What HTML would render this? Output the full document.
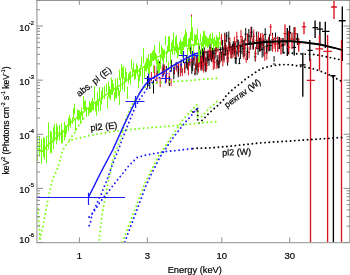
<!DOCTYPE html>
<html><head><meta charset="utf-8"><style>
html,body{margin:0;padding:0;background:#fff;}
svg{display:block;will-change:transform;}
</style></head><body>
<svg width="350" height="275" viewBox="0 0 350 275" xmlns="http://www.w3.org/2000/svg">
<defs><clipPath id="c"><rect x="37" y="0" width="312" height="242"/></clipPath></defs>
<g clip-path="url(#c)">
<polyline points="198.0,53.3 215.0,50.5 230.0,47.5 245.0,44.5 260.0,42.5 275.0,41.5 290.0,41.2 305.0,42.5 320.0,44.5 335.0,48.0 342.0,50.0" stroke="#000" stroke-width="1.2" fill="none"/>
<path d="M147.5 76.1V87.7M147.2 81.9H147.8M153.5 80.2V93.5M153.1 87.0H153.8M159.4 61.3V71.2M159.0 64.4H159.8M166.3 66.0V79.7M165.9 72.8H166.8M171.3 59.7V71.6M170.8 65.7H171.7M176.2 61.8V70.0M175.7 65.9H176.7M181.1 59.5V72.8M180.6 66.2H181.7M184.8 63.3V72.5M184.3 67.9H185.4M187.7 56.3V70.1M187.1 63.2H188.3M190.8 46.7V54.1M190.2 48.5H191.4M192.7 58.3V71.2M192.1 64.8H193.3M195.0 68.3V75.5M194.4 73.3H195.7M197.1 63.5V74.9M196.4 69.9H197.8M199.2 45.6V58.7M198.5 52.1H199.9M201.0 57.8V68.1M200.3 63.0H201.7M202.6 48.4V59.9M201.9 54.2H203.3M204.3 47.4V59.3M203.6 53.4H205.1M205.9 58.2V72.2M205.1 65.5H206.6M208.1 52.1V61.2M207.3 56.6H208.8M210.0 42.3V53.3M209.2 47.8H210.7M211.5 46.1V61.9M210.7 54.0H212.3M213.7 48.4V61.7M212.9 55.1H214.5M216.1 42.7V52.9M215.3 47.8H216.9M218.3 60.8V68.5M217.5 66.9H219.1M220.4 44.9V54.7M219.6 49.8H221.2M222.6 39.9V55.5M221.7 47.7H223.5M224.8 32.7V48.8M223.9 40.7H225.7M226.7 32.1V42.3M225.8 36.1H227.6M228.8 31.4V46.4M227.9 38.7H229.8M231.2 45.7V58.4M230.2 52.0H232.1M233.3 41.1V50.7M232.3 45.9H234.2M235.3 52.1V63.5M234.3 57.8H236.3M237.2 39.2V54.5M236.2 46.9H238.1M239.4 57.9V63.7M238.4 63.6H240.4M242.0 39.1V54.2M241.0 46.6H243.0M244.7 39.7V56.5M243.6 48.1H245.7M247.4 43.1V60.1M246.3 51.6H248.4M250.2 34.3V49.9M249.1 42.1H251.2M253.4 33.6V49.7M252.3 41.6H254.5M256.7 31.5V49.1M255.6 40.3H257.8M259.5 37.9V51.6M258.3 44.7H260.6M262.2 41.3V57.6M261.1 49.4H263.4M265.2 28.2V40.6M264.0 34.4H266.4M268.1 39.6V51.5M266.9 45.6H269.3M270.9 40.1V50.7M269.7 45.4H272.1M274.1 56.1V61.7M272.9 64.0H275.4" stroke="#000" stroke-width="1" fill="none"/><path d="M148.8 75.7V84.7M148.5 80.2H149.1M154.7 65.6V79.3M154.3 72.4H155.1M160.2 77.3V87.2M159.8 82.3H160.6M164.4 64.6V74.3M164.0 69.4H164.9M169.2 72.4V84.4M168.7 78.4H169.7M174.5 66.4V74.3M174.0 70.3H175.0M178.5 63.3V74.8M178.0 69.0H179.1M182.3 68.0V76.1M181.7 72.0H182.8M186.6 55.8V65.1M186.0 60.4H187.2M190.0 58.6V66.4M189.4 62.5H190.6M193.1 51.0V64.0M192.5 57.5H193.8M195.5 63.7V73.2M194.9 68.5H196.2M197.8 56.4V67.4M197.1 61.9H198.5M199.8 56.5V66.7M199.1 61.6H200.5M201.5 49.4V64.4M200.8 56.9H202.2M203.6 57.7V72.7M202.9 65.2H204.3M206.0 59.1V71.6M205.2 65.4H206.7M208.0 49.3V61.2M207.2 55.3H208.7M210.3 48.0V57.1M209.6 52.6H211.1M212.2 50.5V61.5M211.4 56.0H213.0M214.7 56.3V68.8M213.9 62.5H215.5M216.9 60.3V68.9M216.1 66.0H217.7M219.3 52.2V64.1M218.4 58.1H220.1M221.4 33.9V45.3M220.5 38.2H222.2M224.0 46.0V62.6M223.2 54.3H224.9M226.1 44.9V55.5M225.2 50.2H227.0M228.1 46.2V62.5M227.2 54.3H229.0M229.8 37.4V51.0M228.9 44.2H230.7M232.0 46.1V58.4M231.1 52.2H233.0M234.4 36.8V53.0M233.5 44.9H235.4M236.8 31.7V42.1M235.9 36.9H237.8M240.0 41.6V52.2M239.0 46.9H241.0M242.3 36.3V46.6M241.3 41.5H243.3M244.9 38.1V52.6M243.9 45.4H245.9M247.5 33.4V47.5M246.5 40.5H248.6M250.9 26.8V39.5M249.8 32.9H252.0M253.8 29.6V43.5M252.7 36.5H254.9M256.9 36.5V48.9M255.8 42.7H258.0M260.5 33.3V51.5M259.4 42.4H261.7M263.4 34.6V46.2M262.2 40.4H264.5M266.8 46.7V59.7M265.6 53.2H268.0M270.7 23.9V36.0M269.4 26.9H271.9M274.1 37.4V48.7M272.8 43.0H275.3" stroke="#d8121e" stroke-width="1" fill="none"/><path d="M149.8 77.8V89.0M149.5 83.4H150.1M157.2 65.8V75.5M156.9 70.7H157.6M163.2 63.4V75.3M162.8 69.3H163.6M169.3 76.5V86.0M168.8 81.9H169.8M173.8 67.1V79.3M173.3 73.2H174.3M178.2 67.1V77.3M177.7 72.2H178.7M183.5 52.9V63.1M182.9 58.0H184.1M186.3 56.3V68.4M185.7 62.4H186.8M189.0 56.9V65.4M188.4 61.1H189.6M191.8 60.5V73.9M191.1 67.2H192.4M194.0 53.6V65.6M193.3 59.6H194.6M196.2 56.5V69.4M195.5 63.0H196.8M198.0 52.8V67.3M197.4 60.1H198.7M200.1 49.7V63.7M199.4 56.7H200.7M201.8 60.8V70.8M201.1 65.8H202.5M203.5 47.6V62.4M202.7 55.0H204.2M205.1 57.0V71.1M204.4 64.0H205.8M207.1 52.0V64.3M206.4 58.1H207.9M209.0 53.8V65.8M208.2 59.8H209.7M210.7 50.6V60.4M210.0 55.5H211.5M212.6 47.8V59.0M211.8 53.4H213.4M215.0 48.1V58.6M214.2 53.4H215.8M217.2 55.2V65.2M216.4 60.2H218.0M219.2 54.6V67.8M218.4 61.2H220.1M221.7 51.4V61.2M220.8 56.3H222.5M223.9 48.9V60.5M223.1 54.7H224.8M225.6 42.8V55.7M224.7 49.2H226.5M227.6 49.6V65.7M226.7 58.0H228.5M229.8 42.2V51.4M228.9 46.8H230.7M232.4 43.7V54.1M231.5 48.9H233.3M234.2 42.7V55.5M233.3 49.1H235.2M236.1 50.9V64.2M235.2 58.5H237.1M238.3 39.8V56.4M237.3 48.1H239.3M240.4 44.7V58.9M239.4 51.8H241.4M243.2 40.0V57.2M242.2 48.6H244.2M245.7 28.1V40.3M244.6 34.2H246.7M248.8 29.0V43.2M247.8 36.1H249.9M251.7 26.7V37.6M250.7 32.1H252.8M255.2 50.8V61.6M254.1 56.8H256.3M258.1 41.8V54.9M256.9 48.4H259.2M261.0 37.4V50.9M259.8 44.2H262.1M263.9 39.5V56.4M262.7 47.9H265.0M266.7 39.6V53.0M265.5 46.3H267.8M269.4 34.2V51.2M268.2 42.7H270.6M272.5 32.9V45.6M271.3 39.3H273.8M275.5 32.6V43.9M274.3 38.2H276.8" stroke="#000" stroke-width="1" fill="none"/><path d="M151.4 71.9V81.2M151.1 76.5H151.7M156.9 72.5V84.1M156.5 78.3H157.3M162.3 66.4V77.6M161.9 72.0H162.7M166.5 69.1V82.7M166.1 75.9H167.0M171.1 78.9V85.1M170.7 85.6H171.6M176.8 62.8V71.5M176.3 67.1H177.3M180.3 63.3V76.5M179.8 69.9H180.8M184.6 62.1V73.3M184.1 67.7H185.2M188.4 62.3V75.3M187.7 68.8H189.0M191.7 52.8V61.4M191.1 57.1H192.4M194.3 52.5V60.6M193.6 56.5H194.9M196.8 55.4V65.4M196.1 60.4H197.4M198.6 61.3V72.7M197.9 67.0H199.3M200.7 58.7V70.3M200.0 64.5H201.4M202.6 57.7V69.5M201.8 63.6H203.3M204.9 50.4V64.7M204.1 57.5H205.6M206.8 61.2V69.8M206.1 65.5H207.6M209.3 49.8V58.8M208.6 54.3H210.1M211.2 46.5V59.2M210.4 52.9H212.0M213.3 54.6V70.0M212.5 62.4H214.1M216.0 41.6V56.7M215.1 49.2H216.8M218.0 42.9V52.3M217.2 47.6H218.8M220.2 51.8V62.8M219.4 57.3H221.1M222.8 50.5V66.4M221.9 58.5H223.6M224.9 33.6V49.4M224.1 41.5H225.8M227.2 52.6V62.7M226.3 57.7H228.1M228.9 43.2V54.3M228.0 48.8H229.8M230.8 47.5V58.2M229.9 52.9H231.7M233.1 46.4V57.5M232.2 51.9H234.1M235.5 41.4V57.6M234.6 49.5H236.5M238.4 45.2V56.9M237.4 51.1H239.4M241.0 29.9V43.1M240.0 36.5H242.0M243.9 45.1V59.1M242.9 52.1H244.9M246.2 52.9V62.8M245.1 59.2H247.2M249.1 46.7V58.3M248.0 52.5H250.2M252.3 38.3V49.4M251.2 43.9H253.3M255.6 46.9V60.4M254.5 53.7H256.7M258.6 31.6V49.2M257.5 40.4H259.7M262.2 32.9V47.1M261.0 40.0H263.3M264.8 45.7V60.9M263.7 53.3H266.0M268.5 37.2V50.7M267.3 44.0H269.7M272.5 34.3V51.7M271.3 43.0H273.8M275.4 37.3V52.0M274.2 44.6H276.7" stroke="#d8121e" stroke-width="1" fill="none"/><path d="M277.8 36.4V51.8M276.5 43.6H279.2" stroke="#d8121e" stroke-width="1.35" fill="none"/><path d="M279.3 37V49M278 43H280.6" stroke="#000" stroke-width="1.35" fill="none"/><path d="M281 38V54.5M279.6 46H282.4" stroke="#d8121e" stroke-width="1.35" fill="none"/><path d="M283 38V53.6M281.6 45H284.4" stroke="#000" stroke-width="1.35" fill="none"/><path d="M285 24.5V45.5M283.5 33.6H286.5" stroke="#d8121e" stroke-width="1.35" fill="none"/><path d="M287.3 28V56M285.8 42H288.8" stroke="#000" stroke-width="1.35" fill="none"/><path d="M289.6 25.5V41.8M288 32.7H291.2" stroke="#000" stroke-width="1.35" fill="none"/><path d="M288.7 31V54.5M287.2 47.3H290.2" stroke="#d8121e" stroke-width="1.35" fill="none"/><path d="M292 32.7V49M290.4 39H293.6" stroke="#d8121e" stroke-width="1.35" fill="none"/><path d="M294.2 27.3V55.5M292.5 47.3H296" stroke="#000" stroke-width="1.35" fill="none"/><path d="M295 27V41M293.3 33.6H296.8" stroke="#d8121e" stroke-width="1.35" fill="none"/><path d="M297.5 33.6V45M295.8 39H299.2" stroke="#000" stroke-width="1.35" fill="none"/><path d="M298.7 39V51.8M297 43.6H300.4" stroke="#d8121e" stroke-width="1.35" fill="none"/><path d="M304 21.8V34.2M301.8 26.9H306.2" stroke="#d8121e" stroke-width="1.35" fill="none"/><path d="M302.8 52.7V96.8M299.6 64.9H305.5" stroke="#000" stroke-width="1.35" fill="none"/><path d="M309.8 40V61.3M307.6 50.4H312.7" stroke="#000" stroke-width="1.35" fill="none"/><path d="M310.5 58.4V242M306.7 80.3H314.9" stroke="#d8121e" stroke-width="1.35" fill="none"/><path d="M315.1 20.4V38M312.5 27.6H318" stroke="#000" stroke-width="1.35" fill="none"/><path d="M319.9 21.8V45M316.5 29.1H323" stroke="#000" stroke-width="1.35" fill="none"/><path d="M319.5 35V70.6M315.5 48.8H323.1" stroke="#d8121e" stroke-width="1.35" fill="none"/><path d="M325.3 21.8V48M322 31.3H329.5" stroke="#000" stroke-width="1.35" fill="none"/><path d="M327.6 35V242M323.4 51.3H331.8" stroke="#d8121e" stroke-width="1.35" fill="none"/><path d="M334 0V18.9M331.1 7H336.9" stroke="#d8121e" stroke-width="1.35" fill="none"/><path d="M333.4 75.2V242M330.4 75.7H335.5" stroke="#000" stroke-width="1.35" fill="none"/><path d="M342.3 6.5V61M338.8 20.7H345.6" stroke="#000" stroke-width="1.35" fill="none"/><path d="M341.5 40V242" stroke="#d8121e" stroke-width="1.35" fill="none"/>
<path d="M37.5 135.5V161.4M36.3 148.4H38.7M39.5 135.9V155.6M38.3 145.8H40.7M41.5 138.9V164.0M40.3 151.4H42.7M43.5 137.2V156.9M42.3 147.0H44.7M44.5 138.1V159.3M43.3 148.7H45.7M46.5 136.1V163.1M45.3 149.6H47.7M48.5 122.5V149.4M47.3 136.0H49.7M50.5 130.5V153.4M49.3 141.9H51.7M51.5 131.8V153.1M50.3 142.5H52.7M53.5 127.3V148.9M52.3 138.1H54.7M54.5 124.0V141.3M53.3 132.7H55.7M56.5 123.4V144.3M55.3 133.9H57.7M57.5 126.4V140.4M56.3 133.4H58.7M59.5 124.9V140.5M58.3 132.7H60.7M61.5 123.5V143.2M60.8 133.3H62.2M62.5 130.0V143.1M61.8 136.5H63.2M64.5 121.7V140.4M63.8 131.1H65.2M65.5 125.2V137.3M64.8 131.3H66.2M66.5 126.3V133.9M65.8 130.1H67.2M68.5 118.0V131.0M67.8 124.5H69.2M69.5 115.2V125.5M68.8 120.3H70.2M70.5 118.8V127.7M69.8 123.2H71.2M72.5 117.3V124.0M71.8 120.6H73.2M73.5 108.3V118.9M72.8 113.6H74.2M74.5 103.8V114.4M73.8 109.1H75.2M75.5 118.6V131.2M77.5 111.9V119.1M77.5 109.5V119.5M78.5 110.0V120.7M79.5 110.5V119.6M80.5 111.7V124.0M81.5 107.5V116.1M82.5 111.3V120.3M83.5 96.3V109.5M84.5 101.2V111.3M85.5 100.3V110.9M86.5 106.8V117.0M88.5 108.3V116.0M89.5 100.9V112.9M90.5 103.0V112.7M91.5 100.9V112.2M92.5 97.8V109.9M93.5 101.1V110.6M94.5 86.2V100.0M95.5 102.2V111.1M96.5 101.3V115.6M97.5 91.9V105.7M98.5 100.9V111.2M99.5 87.0V101.2M100.5 100.1V111.3M101.5 90.8V104.3M102.5 87.3V99.5M104.5 88.5V98.9M104.5 85.9V95.0M106.5 83.9V92.2M107.5 96.5V108.7M108.5 81.6V96.9M109.5 86.0V98.7M110.5 89.3V100.3M111.5 77.5V91.1M111.5 80.6V94.7M112.5 79.9V95.0M113.5 83.9V91.7M114.5 92.1V101.2M115.5 78.9V91.3M115.5 90.4V98.1M116.5 86.6V98.6M117.5 77.8V90.4M118.5 88.0V95.9M119.5 90.4V105.0M119.5 69.6V79.8M120.5 77.8V91.9M121.5 64.0V78.1M122.5 74.9V89.8M122.5 67.4V80.3M123.5 65.9V78.9M124.5 77.7V91.9M125.5 67.9V82.6M126.5 71.9V79.7M127.5 86.7V98.9M128.5 73.8V83.5M129.5 71.4V79.8M130.5 71.8V84.9M130.5 71.6V82.2M131.5 59.1V68.7M132.5 68.2V76.4M133.5 62.5V72.5M134.5 71.0V79.6M134.5 69.8V78.0M135.5 69.2V79.2M136.5 63.3V72.3M137.5 65.3V75.8M138.5 74.6V87.9M139.5 68.2V81.0M140.5 64.9V76.5M141.5 57.1V66.6M142.5 67.9V82.4M142.5 69.8V83.6M143.5 47.8V63.1M144.5 64.7V78.2M145.5 62.2V71.0M146.5 58.4V71.4M147.5 58.2V68.9M148.5 67.4V78.9M148.5 54.2V67.2M149.5 60.2V74.7M150.5 53.6V66.9M151.5 53.0V65.9M152.5 51.4V59.7M153.5 64.9V73.2M153.5 50.1V61.0M154.5 45.1V59.8M155.5 52.6V60.5M156.5 54.7V64.6M157.5 59.6V70.7M158.5 59.0V73.6M159.5 63.2V73.8M159.5 41.8V53.3M160.5 54.3V68.8M161.5 45.5V58.4M162.5 51.1V61.0M162.5 48.0V60.0M163.5 49.6V64.3M164.5 49.5V58.0M165.5 35.9V45.3M166.5 50.9V62.7M167.5 45.6V53.5M168.5 61.7V69.8M168.5 36.3V51.1M169.5 36.4V50.2M170.5 50.7V63.9M171.5 42.5V51.5M172.5 39.7V54.8M173.5 32.7V48.0M174.5 46.4V54.8M175.5 36.9V51.1M176.5 39.6V53.0M176.5 35.2V46.3M177.5 43.9V58.3M178.5 47.1V56.4M179.5 41.7V49.9M180.5 38.6V54.0M181.5 41.4V54.9M182.5 49.0V57.2M182.5 41.1V56.4M183.5 37.1V49.9M184.5 34.7V47.2M185.5 30.4V45.2M185.5 29.4V43.1M186.5 32.5V46.6M187.5 47.9V62.1M188.5 38.6V49.4M189.5 37.6V51.1M190.5 31.7V45.2M191.5 44.0V58.1M192.5 27.4V41.2M192.5 29.8V37.5M193.5 45.5V57.5M194.5 33.6V46.4M195.5 35.1V43.9M196.5 34.4V45.1M197.5 29.0V39.8M198.5 48.1V62.9M198.5 39.2V48.6M199.5 49.2V61.9M200.5 33.5V42.2M201.5 42.0V55.5M202.5 36.3V47.0M203.5 42.5V51.1M203.5 30.9V43.7M204.5 31.3V44.4M205.5 35.2V47.2M206.5 36.4V46.0M207.5 37.7V48.1M207.5 39.1V47.3M208.5 38.1V47.1M209.5 35.1V44.8M210.5 33.6V41.6M211.5 38.7V50.6M212.5 32.6V43.7M213.5 38.7V50.3M213.5 38.9V48.3M214.5 36.9V46.3M215.5 40.4V47.4M216.5 35.2V47.3M217.5 37.0V43.8M217.5 40.0V48.3M218.5 37.4V47.4M219.5 32.1V39.6M220.5 41.2V47.2" stroke="#74ff0c" stroke-width="1" fill="none"/><path d="M191.5 15V40" stroke="#74ff0c" stroke-width="1"/><path d="M191.5 14.5V16.5" stroke="#d8121e" stroke-width="1"/>
<polyline points="37.0,148.0 41.8,151.4 50.0,143.0 64.0,131.0 68.0,125.0 83.0,112.5 98.0,100.0 113.0,90.0 125.0,82.0 140.0,69.5 150.0,62.0 155.0,58.5 170.0,50.5 185.0,46.0 195.0,44.5 205.0,43.5 220.0,43.0" stroke="#74ff0c" stroke-width="1.4" fill="none"/>
<polyline points="193.0,112.0 197.7,108.5 197.7,122.5 198.8,123.3 202.6,119.9 205.8,116.7 208.7,113.5 212.2,110.4 215.1,107.6 218.2,105.0 221.1,102.1 224.3,98.9 226.5,94.9 229.4,92.7 232.3,89.8 235.9,86.9 239.5,84.0 243.2,81.1 246.8,78.2 250.5,75.7 254.1,73.4 257.7,70.9 261.4,68.7 265.0,67.5 272.8,65.7 281.0,64.6 290.2,64.6 300.0,66.3 312.2,68.5 320.0,71.0 328.2,74.3 341.0,81.0" stroke="#000" stroke-width="1.9" stroke-linecap="round" stroke-dasharray="0.01 4.25" stroke-dashoffset="0" fill="none"/><polyline points="192.9,148.6 197.1,148.3 210.0,147.9 230.0,146.2 260.0,142.9 282.5,141.5 310.0,139.6 339.8,137.6 342.0,137.5" stroke="#000" stroke-width="1.9" stroke-linecap="round" stroke-dasharray="0.01 4.25" stroke-dashoffset="0" fill="none"/><polyline points="284.0,52.8 290.0,52.8 295.0,53.6 314.4,54.6 320.0,55.5 330.0,57.5 342.0,60.0" stroke="#000" stroke-width="1.9" stroke-linecap="round" stroke-dasharray="0.01 4.25" stroke-dashoffset="0" fill="none"/><polyline points="40.0,239.0 43.4,224.3 47.3,203.0 49.0,194.4 51.0,186.0 53.2,177.6 56.8,170.5 59.5,162.4 61.5,154.1 63.0,149.7 65.2,146.1 67.4,143.2 69.5,140.7 73.2,139.3 77.5,138.4 81.9,137.4 86.3,136.3 95.0,134.5 116.0,131.1 140.0,128.5 178.0,125.5 194.5,123.6 209.7,122.0 219.0,121.6" stroke="#74ff0c" stroke-width="1.9" stroke-linecap="round" stroke-dasharray="0.01 4.25" stroke-dashoffset="0" fill="none"/><polyline points="37.0,204.4 38.0,209.0 38.3,213.0 38.6,217.4 39.0,221.7 39.3,226.0 39.5,230.0 39.7,235.0 40.0,240.0" stroke="#74ff0c" stroke-width="1.9" stroke-linecap="round" stroke-dasharray="0.01 4.25" stroke-dashoffset="0" fill="none"/><polyline points="69.6,139.8 72.9,135.0 74.5,133.3 76.2,129.4 78.3,126.5 81.0,122.0 84.0,118.0" stroke="#74ff0c" stroke-width="1.9" stroke-linecap="round" stroke-dasharray="0.01 4.25" stroke-dashoffset="0" fill="none"/><polyline points="99.0,242.0 102.0,215.0 105.8,194.8 108.0,182.3 110.0,173.8 112.0,162.5 114.5,154.0 117.7,146.8 119.5,142.0 122.0,133.5 126.2,117.9 128.4,113.5 130.0,109.7 131.4,105.9 134.5,101.0 137.6,96.6 141.8,89.5 147.3,85.5 155.0,83.2 165.0,82.0 190.0,80.5 219.0,78.0" stroke="#74ff0c" stroke-width="1.9" stroke-linecap="round" stroke-dasharray="0.01 4.25" stroke-dashoffset="2.1" fill="none"/><polyline points="122.5,242.0 144.2,185.0 149.0,175.0 158.0,157.0 171.0,137.6 182.6,120.0 187.9,114.4 193.7,108.0 196.6,104.8 197.8,104.8 197.8,117.0 201.4,116.7 204.5,113.5 207.5,110.1 210.5,107.6 213.8,104.4 216.9,101.5 219.0,99.5" stroke="#74ff0c" stroke-width="1.9" stroke-linecap="round" stroke-dasharray="0.01 4.25" stroke-dashoffset="0" fill="none"/><polyline points="89.1,217.0 92.6,213.3 95.2,209.6 98.8,203.8 102.5,199.0 106.8,193.6 115.0,183.0 123.4,172.7 129.0,165.5 137.2,157.5 144.0,155.5 150.9,154.2 164.6,151.6 180.0,150.1 192.9,148.6" stroke="#1a1aff" stroke-width="1.9" stroke-linecap="round" stroke-dasharray="0.01 4.25" stroke-dashoffset="0" fill="none"/><polyline points="89.1,225.7 90.5,222.0 92.0,214.0 94.5,209.0 96.6,204.0 99.6,197.3 101.4,193.8 104.5,185.9 107.7,178.0 110.5,170.0 113.6,161.4 116.8,153.6 118.6,149.5 121.4,141.4 125.4,131.0 129.4,121.2 134.4,109.2 139.0,100.0 142.4,95.4 145.1,91.6 150.0,84.0 158.0,78.5 165.0,74.5 175.0,68.0 184.0,63.0 193.5,58.0 198.0,56.5" stroke="#1a1aff" stroke-width="1.9" stroke-linecap="round" stroke-dasharray="0.01 4.25" stroke-dashoffset="0" fill="none"/><polyline points="124.8,242.0 135.0,215.0 146.2,185.0 150.9,175.0 160.0,157.0 173.2,137.6 184.6,123.0 187.4,119.8 190.4,116.8 193.0,113.3 196.0,110.0 197.8,108.5" stroke="#1a1aff" stroke-width="1.9" stroke-linecap="round" stroke-dasharray="0.01 4.25" stroke-dashoffset="0" fill="none"/>
<polyline points="245.0,44.5 260.0,42.5 275.0,41.5 290.0,41.2 305.0,42.5 320.0,44.5 335.0,48.0 342.0,50.0" stroke="#000" stroke-width="1.8" fill="none"/>
<polyline points="88.6,197.0 100.0,174.0 112.7,150.0 124.0,125.0 135.5,101.0 140.0,92.5 145.0,85.0 150.0,79.5 158.0,75.0 165.0,71.0 175.0,64.5 184.0,59.6 193.5,54.5 198.0,53.0" stroke="#1a1aff" stroke-width="1.5" fill="none"/>
<path d="M37 197.5H125M88.5 192.7V205M125.5 101.5H144.5M135.5 96V106M144.5 78.5H154M148.5 73.5V84M161 78.5H170.5M165.5 74.5V83.5M178.9 55.5H187.6M183.5 50.9V60.4M189.8 55.5H198.5M192.5 50.9V58.9" stroke="#1a1aff" stroke-width="1.15" fill="none"/>
</g>
<path d="M36.9 0V243.2M36.3 242.6H350" stroke="#a6a6a6" stroke-width="1.3" fill="none"/><path d="M36.3 0.3H350M349.9 0V243" stroke="#959595" stroke-width="1.2" fill="none"/><path d="M37 242.45h6M350 242.45h-6.5M37 226.16h3M350 226.16h-3.5M37 216.64h3M350 216.64h-3.5M37 209.88h3M350 209.88h-3.5M37 204.64h3M350 204.64h-3.5M37 200.35h3M350 200.35h-3.5M37 196.73h3M350 196.73h-3.5M37 193.59h3M350 193.59h-3.5M37 190.83h3M350 190.83h-3.5M37 188.35h6M350 188.35h-6.5M37 172.06h3M350 172.06h-3.5M37 162.54h3M350 162.54h-3.5M37 155.78h3M350 155.78h-3.5M37 150.54h3M350 150.54h-3.5M37 146.25h3M350 146.25h-3.5M37 142.63h3M350 142.63h-3.5M37 139.49h3M350 139.49h-3.5M37 136.73h3M350 136.73h-3.5M37 134.25h6M350 134.25h-6.5M37 117.96h3M350 117.96h-3.5M37 108.44h3M350 108.44h-3.5M37 101.68h3M350 101.68h-3.5M37 96.44h3M350 96.44h-3.5M37 92.15h3M350 92.15h-3.5M37 88.53h3M350 88.53h-3.5M37 85.39h3M350 85.39h-3.5M37 82.63h3M350 82.63h-3.5M37 80.15h6M350 80.15h-6.5M37 63.86h3M350 63.86h-3.5M37 54.34h3M350 54.34h-3.5M37 47.58h3M350 47.58h-3.5M37 42.34h3M350 42.34h-3.5M37 38.05h3M350 38.05h-3.5M37 34.43h3M350 34.43h-3.5M37 31.29h3M350 31.29h-3.5M37 28.53h3M350 28.53h-3.5M37 26.05h6M350 26.05h-6.5M37 9.76h3M350 9.76h-3.5M37 0.24h3M350 0.24h-3.5M79.40 242.5v-5M79.40 0v4.8M147.34 242.5v-5M147.34 0v4.8M221.80 242.5v-5M221.80 0v4.8M289.74 242.5v-5M289.74 0v4.8" stroke="#8c8c8c" stroke-width="1" fill="none"/>
<text x="19.3" y="30.95" font-size="9.2" font-family="Liberation Sans, sans-serif" stroke="#000" stroke-width="0.2">10</text><text x="28.8" y="25.05" font-size="5.8" font-family="Liberation Sans, sans-serif" stroke="#000" stroke-width="0.2">-2</text>
<text x="19.3" y="85.05" font-size="9.2" font-family="Liberation Sans, sans-serif" stroke="#000" stroke-width="0.2">10</text><text x="28.8" y="79.15" font-size="5.8" font-family="Liberation Sans, sans-serif" stroke="#000" stroke-width="0.2">-3</text>
<text x="19.3" y="139.15" font-size="9.2" font-family="Liberation Sans, sans-serif" stroke="#000" stroke-width="0.2">10</text><text x="28.8" y="133.25" font-size="5.8" font-family="Liberation Sans, sans-serif" stroke="#000" stroke-width="0.2">-4</text>
<text x="19.3" y="193.25" font-size="9.2" font-family="Liberation Sans, sans-serif" stroke="#000" stroke-width="0.2">10</text><text x="28.8" y="187.35" font-size="5.8" font-family="Liberation Sans, sans-serif" stroke="#000" stroke-width="0.2">-5</text>
<text x="19.3" y="242.60" font-size="9.2" font-family="Liberation Sans, sans-serif" stroke="#000" stroke-width="0.2">10</text><text x="28.8" y="236.70" font-size="5.8" font-family="Liberation Sans, sans-serif" stroke="#000" stroke-width="0.2">-6</text>
<text x="79.40" y="259.3" font-size="9.5" text-anchor="middle" font-family="Liberation Sans, sans-serif" stroke="#000" stroke-width="0.2">1</text>
<text x="147.34" y="259.3" font-size="9.5" text-anchor="middle" font-family="Liberation Sans, sans-serif" stroke="#000" stroke-width="0.2">3</text>
<text x="221.80" y="259.3" font-size="9.5" text-anchor="middle" font-family="Liberation Sans, sans-serif" stroke="#000" stroke-width="0.2">10</text>
<text x="289.74" y="259.3" font-size="9.5" text-anchor="middle" font-family="Liberation Sans, sans-serif" stroke="#000" stroke-width="0.2">30</text>
<text x="194.8" y="273.2" font-size="9.3" text-anchor="middle" font-family="Liberation Sans, sans-serif" stroke="#000" stroke-width="0.2">Energy (keV)</text>
<text transform="translate(9.0,174.5) rotate(-90)" font-size="8.5" font-family="Liberation Sans, sans-serif" stroke="#000" stroke-width="0.2">keV<tspan font-size="5.2" dy="-4.0">2</tspan><tspan dy="4.0"> (Photons cm</tspan><tspan font-size="5.2" dy="-4.0">-2</tspan><tspan dy="4.0"> s</tspan><tspan font-size="5.2" dy="-4.0">-1</tspan><tspan dy="4.0"> keV</tspan><tspan font-size="5.2" dy="-4.0">-1</tspan><tspan dy="4.0">)</tspan></text>
<text transform="translate(79.2,97) rotate(-38)" font-size="9.2" font-family="Liberation Sans, sans-serif" stroke="#000" stroke-width="0.2">abs. pl (E)</text>
<text transform="translate(90.7,131.1) rotate(-6)" font-size="9.2" font-family="Liberation Sans, sans-serif" stroke="#000" stroke-width="0.2">pl2 (E)</text>
<text transform="translate(227,108.2) rotate(-36)" font-size="8.7" font-family="Liberation Sans, sans-serif" stroke="#000" stroke-width="0.2">pexrav (W)</text>
<text transform="translate(222.3,155.7) rotate(-2)" font-size="9" font-family="Liberation Sans, sans-serif" stroke="#000" stroke-width="0.2">pl2 (W)</text>
</svg>
</body></html>
